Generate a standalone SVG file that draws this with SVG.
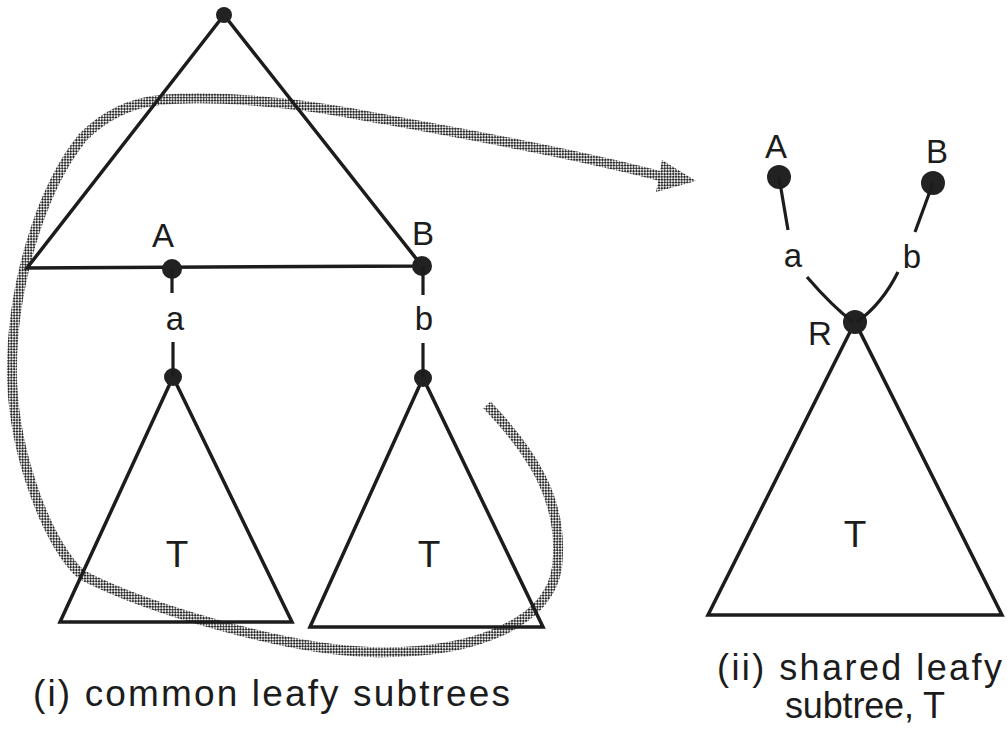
<svg xmlns="http://www.w3.org/2000/svg" width="1007" height="731" viewBox="0 0 1007 731">
<defs>
<pattern id="ht" width="4" height="4" patternUnits="userSpaceOnUse" patternTransform="rotate(45)">
<rect width="4" height="4" fill="#ffffff"/>
<rect x="0" y="0" width="2.2" height="2.2" fill="#2a2a2a"/>
<rect x="2" y="2" width="2.2" height="2.2" fill="#2a2a2a"/>
</pattern>
</defs>
<style>
.ln{fill:none;stroke:#1c1c1c;stroke-width:3.5;stroke-linejoin:miter;stroke-linecap:butt}
.ed{fill:none;stroke:#1c1c1c;stroke-width:3.2;stroke-linecap:butt}
.dot{fill:#222222}
.lb{font-family:"Liberation Sans",Arial,sans-serif;font-size:33px;fill:#1c1c1c;text-anchor:middle}
.tt{font-family:"Liberation Sans",Arial,sans-serif;font-size:37px;fill:#1c1c1c;text-anchor:middle}
.cap{font-family:"Liberation Sans",Arial,sans-serif;font-size:37px;fill:#1c1c1c}
.band{fill:none;stroke:url(#ht);stroke-width:10;stroke-linecap:butt}
</style>
<rect width="1007" height="731" fill="#ffffff"/>
<g id="gray-arrow">
<path class="band" d="M487,405 C530,450 565,500 557,567 C550,620 480,655 370,652 C290,650 150,610 82,575 C50,548 15,460 12,380 C10,290 40,190 83,137 C105,115 130,103 160,100 C210,95 290,102 350,113 C420,126 560,150 660,176"/>
<polygon points="662,160 696,181 656,192" fill="url(#ht)"/>
</g>
<g id="top-tree">
<polygon class="ln" points="224,15 27,268 422,266"/>
<circle class="dot" cx="224" cy="15" r="8"/>
</g>
<g id="node-A">
<circle class="dot" cx="172" cy="269" r="10"/>
<text class="lb" x="163" y="247">A</text>
</g>
<g id="node-B">
<circle class="dot" cx="422" cy="266" r="10"/>
<text class="lb" x="423" y="245">B</text>
</g>
<g id="subtree-T1">
<polygon class="ln" points="173,377 60,622 292,622"/>
<circle class="dot" cx="173" cy="377" r="9"/>
<text class="tt" x="177" y="567">T</text>
</g>
<g id="subtree-T2">
<polygon class="ln" points="423,378 310,627 543,627"/>
<circle class="dot" cx="423" cy="378" r="9"/>
<text class="tt" x="429" y="567">T</text>
</g>
<g id="node-A2">
<circle class="dot" cx="779" cy="177" r="12"/>
<text class="lb" x="776" y="158">A</text>
</g>
<g id="node-B2">
<circle class="dot" cx="933" cy="183" r="12"/>
<text class="lb" x="937" y="163">B</text>
</g>
<g id="shared-T">
<polygon class="ln" points="855,322 708,615 1002,615"/>
<circle class="dot" cx="855" cy="322" r="12"/>
<text class="lb" x="820" y="345">R</text>
<text class="tt" x="855" y="547">T</text>
</g>
<g id="connectors">
<line class="ed" x1="172" y1="269" x2="172" y2="293"/>
<line class="ed" x1="173" y1="342" x2="173" y2="377"/>
<text class="lb" x="175" y="330">a</text>
<line class="ed" x1="423" y1="266" x2="423" y2="295"/>
<line class="ed" x1="423" y1="343" x2="423" y2="378"/>
<text class="lb" x="424" y="330">b</text>
<line class="ed" x1="779" y1="177" x2="788" y2="230"/>
<path class="ed" d="M807,277 Q832,306 853,322"/>
<text class="lb" x="793" y="267">a</text>
<line class="ed" x1="933" y1="183" x2="915" y2="232"/>
<path class="ed" d="M898,272 Q882,304 857,322"/>
<text class="lb" x="912" y="268">b</text>
</g>
<g id="captions">
<text class="cap" x="33" y="706" textLength="477" lengthAdjust="spacing">(i) common leafy subtrees</text>
<text class="cap" x="717" y="680" textLength="285" lengthAdjust="spacing" style="font-size:36px">(ii) shared leafy</text>
<text class="cap" x="785" y="718" textLength="160" lengthAdjust="spacing" style="font-size:36px">subtree, T</text>
</g>
</svg>
